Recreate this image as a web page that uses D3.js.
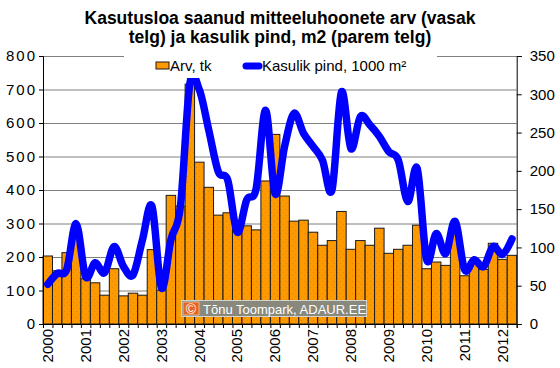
<!DOCTYPE html>
<html>
<head>
<meta charset="utf-8">
<script src="https://cdn.jsdelivr.net/npm/d3@7"></script>
<style>
  body { margin: 0; background: #fff; }
  svg { display: block; font-family: "Liberation Sans", Arial, sans-serif; }
</style>
</head>
<body>
<svg id="chart" width="560" height="368"></svg>
<script>
// Quarters 2000 Q1 .. 2012 Q2
const quarters = [
  "2000-1","2000-2","2000-3","2000-4","2001-1","2001-2","2001-3","2001-4",
  "2002-1","2002-2","2002-3","2002-4","2003-1","2003-2","2003-3","2003-4",
  "2004-1","2004-2","2004-3","2004-4","2005-1","2005-2","2005-3","2005-4",
  "2006-1","2006-2","2006-3","2006-4","2007-1","2007-2","2007-3","2007-4",
  "2008-1","2008-2","2008-3","2008-4","2009-1","2009-2","2009-3","2009-4",
  "2010-1","2010-2","2010-3","2010-4","2011-1","2011-2","2011-3","2011-4",
  "2012-1","2012-2"
];

// Year labels shown on the x axis (at the first quarter)
const yearLabels = ["2000","2001","2002","2003","2004","2005","2006","2007","2008","2009","2010","2011","2012"];

// Arv, tk (left axis)
const arv = [203,159,213,260,135,123,86,165,84,92,86,222,101,384,352,716,
  483,408,325,332,275,293,281,427,566,382,307,310,274,235,249,336,
  223,249,235,286,211,223,235,295,165,185,175,275,144,185,163,241,193,205];

// Kasulik pind, 1000 m2 (right axis)
const pind = [52,66,71,131,62,80,67,101,75,64,110,154,47,110,153,314,
  306,253,199,188,120,162,177,279,170,232,275,249,232,214,175,303,
  229,271,260,245,225,214,160,203,84,118,92,134,71,84,75,101,91,111];

const leftTicks = [0,100,200,300,400,500,600,700,800];
const rightTicks = [0,50,100,150,200,250,300,350];

// Plot box
const x0 = 43, x1 = 516.7, yTop = 56, yBot = 324;

const svg = d3.select("#chart");

// Pattern for the dotted orange bars
const defs = svg.append("defs");
const pat = defs.append("pattern")
  .attr("id", "dots")
  .attr("patternUnits", "userSpaceOnUse")
  .attr("width", 6).attr("height", 6);
pat.append("rect").attr("width", 6).attr("height", 6).attr("fill", "#ff9900");
pat.append("rect").attr("x", 1).attr("y", 2).attr("width", 1).attr("height", 1).attr("fill", "#d98a10");
pat.append("rect").attr("x", 4).attr("y", 5).attr("width", 1).attr("height", 1).attr("fill", "#d98a10");

// Scales
const xScale = d3.scaleBand()
  .domain(quarters)
  .range([x0, x1])
  .padding(0);

const xLin = d3.scaleLinear()
  .domain([0, quarters.length])
  .range([x0, x1]);

const yLeft = d3.scaleLinear()
  .domain([0, 800])
  .range([yBot, yTop]);

const yRight = d3.scaleLinear()
  .domain([0, 350])
  .range([yBot, yTop]);

// Title (two lines)
svg.append("text")
  .attr("x", 280).attr("y", 23.5)
  .attr("text-anchor", "middle")
  .style("font-size", "17.5px").style("font-weight", "bold")
  .text("Kasutusloa saanud mitteeluhoonete arv (vasak");
svg.append("text")
  .attr("x", 280).attr("y", 43)
  .attr("text-anchor", "middle")
  .style("font-size", "17.5px").style("font-weight", "bold")
  .text("telg) ja kasulik pind, m2 (parem telg)");

// Gridlines
svg.append("g")
  .attr("transform", `translate(${x0},0)`)
  .call(d3.axisLeft(yLeft).tickValues(leftTicks.slice(1)).tickSize(-(x1 - x0)).tickFormat(""))
  .call(g => g.select(".domain").remove())
  .call(g => g.selectAll("line").attr("stroke", "#808080"));

// Bars
svg.append("g")
  .selectAll("rect")
  .data(arv)
  .join("rect")
  .attr("x", (d, i) => xScale(quarters[i]))
  .attr("width", xScale.bandwidth())
  .attr("y", d => yLeft(d))
  .attr("height", d => yBot - yLeft(d))
  .attr("fill", "url(#dots)")
  .attr("stroke", "#1a1a1a")
  .attr("stroke-width", 1);

// Smoothed line on the right axis
const line = d3.line()
  .x((d, i) => xScale(quarters[i]) + xScale.bandwidth() / 2)
  .y(d => yRight(d))
  .curve(d3.curveCardinal.tension(0));

svg.append("path")
  .datum(pind)
  .attr("d", line)
  .attr("fill", "none")
  .attr("stroke", "#0000ff")
  .attr("stroke-width", 7.5)
  .attr("stroke-linecap", "round")
  .attr("stroke-linejoin", "round");

// Left axis
svg.append("g")
  .attr("class", "axis")
  .attr("transform", `translate(${x0},0)`)
  .call(d3.axisLeft(yLeft).tickValues(leftTicks).tickSize(4).tickPadding(2))
  .call(g => g.selectAll("text").style("font-size", "15px").style("letter-spacing", "2px").attr("fill", "#000"));

// Right axis
svg.append("g")
  .attr("class", "axis")
  .attr("transform", `translate(${x1},0)`)
  .call(d3.axisRight(yRight).tickValues(rightTicks).tickSize(5).tickPadding(8))
  .call(g => g.selectAll("text").style("font-size", "15px").attr("fill", "#000"));

// Bottom axis: tick marks between quarters
svg.append("g")
  .attr("transform", `translate(0,${yBot})`)
  .call(d3.axisBottom(xLin).tickValues(d3.range(quarters.length + 1)).tickSize(4).tickFormat(""));

// Bottom axis: year labels at first quarter, rotated
const yearQuarters = yearLabels.map(y => y + "-1");
svg.append("g")
  .attr("transform", `translate(0,${yBot})`)
  .call(d3.axisBottom(xScale).tickValues(yearQuarters).tickSize(0).tickFormat(d => d.slice(0, 4)))
  .call(g => g.select(".domain").remove())
  .call(g => g.selectAll("text")
    .attr("transform", "rotate(-90)")
    .attr("x", -5).attr("y", 0).attr("dy", "0.35em")
    .style("text-anchor", "end")
    .style("font-size", "15px")
    .attr("fill", "#000"));

// Legend (white box over the top gridline)
const legend = svg.append("g");
legend.append("rect")
  .attr("x", 124).attr("y", 50).attr("width", 313).attr("height", 28)
  .attr("fill", "#fff");
legend.append("rect")
  .attr("x", 156).attr("y", 62).attr("width", 13).attr("height", 7)
  .attr("fill", "#ff9900").attr("stroke", "#1a1a1a");
legend.append("text")
  .attr("x", 170).attr("y", 71)
  .style("font-size", "15px")
  .text("Arv, tk");
legend.append("line")
  .attr("x1", 246).attr("x2", 259).attr("y1", 66).attr("y2", 66)
  .attr("stroke", "#0000ff").attr("stroke-width", 7).attr("stroke-linecap", "round");
legend.append("text")
  .attr("x", 262).attr("y", 71)
  .style("font-size", "15px")
  .text("Kasulik pind, 1000 m²");

// Watermark
const wm = svg.append("g");
wm.append("rect")
  .attr("x", 181.5).attr("y", 300.5).attr("width", 185).attr("height", 16)
  .attr("fill", "#88887c").attr("stroke", "#d4d4cc");
wm.append("rect")
  .attr("x", 183).attr("y", 302).attr("width", 16).attr("height", 13)
  .attr("fill", "#e8641c").attr("stroke", "#fff").attr("stroke-width", 0.5);
wm.append("text")
  .attr("x", 191).attr("y", 313.5)
  .attr("text-anchor", "middle")
  .attr("fill", "#fff")
  .style("font-size", "14px")
  .text("©");
wm.append("text")
  .attr("x", 203).attr("y", 313.5)
  .attr("fill", "#fff")
  .style("font-size", "13px")
  .text("Tõnu Toompark, ADAUR.EE");
</script>
</body>
</html>
